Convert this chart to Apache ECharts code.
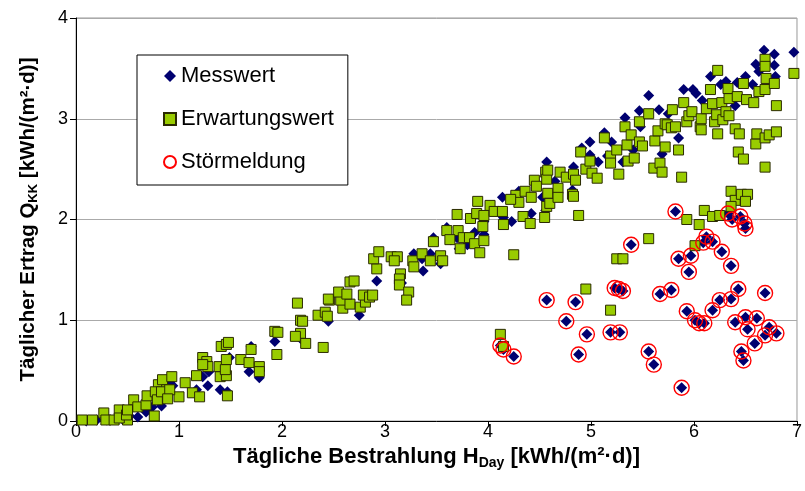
<!DOCTYPE html>
<html>
<head>
<meta charset="utf-8">
<script src="https://cdn.jsdelivr.net/npm/echarts@6/dist/echarts.min.js"></script>
<style>html,body{margin:0;padding:0;background:#fff;}#chart{width:805px;height:491px;}</style>
</head>
<body>
<div id="chart"></div>
<script>
// Tick values
var xTicks = [0, 1, 2, 3, 4, 5, 6, 7];
var yTicks = [0, 1, 2, 3, 4];
var seriesNames = ['Messwert', 'Erwartungswert', 'Störmeldung'];

// Störmeldung (fault days) [H_Day, Q_KK]
var stoerung = [
 [5.82,2.08],[6.33,2.06],[6.45,2.03],[6.49,1.96],[6.50,1.91],[6.37,2.00],[5.39,1.75],[6.12,1.83],[6.09,1.77],[6.18,1.78],
 [6.27,1.68],[5.85,1.61],[5.97,1.64],[6.36,1.54],[5.95,1.48],[5.23,1.32],[5.27,1.31],[5.31,1.29],[5.67,1.26],[5.78,1.30],
 [6.43,1.31],[6.69,1.27],[4.57,1.20],[4.85,1.18],[6.25,1.20],[6.36,1.21],[6.18,1.10],[5.93,1.09],[6.01,1.00],[6.05,0.97],
 [6.10,0.97],[4.76,0.99],[6.40,0.98],[6.50,1.03],[6.61,1.02],[6.52,0.91],[6.73,0.93],[6.69,0.85],[6.80,0.87],[4.96,0.86],
 [5.19,0.88],[5.28,0.88],[6.59,0.77],[4.12,0.75],[4.15,0.71],[4.25,0.64],[4.88,0.66],[5.56,0.69],[5.61,0.56],[6.46,0.69],
 [6.48,0.60],[5.88,0.33]
];

// Messwert (measured) on normal days
var messwertNormal = [
 [0.10,0.00],[0.20,0.01],[0.30,0.01],[0.45,0.02],[0.52,0.05],
 [0.60,0.04],[0.68,0.09],[0.71,0.14],[0.83,0.15],[0.94,0.35],[1.17,0.31],[1.23,0.44],[1.28,0.35],[1.40,0.31],[1.47,0.29],
 [1.29,0.49],[1.49,0.63],[1.68,0.49],[1.78,0.43],[1.70,0.74],[1.93,0.79],[2.18,0.82],[2.45,0.99],[2.75,1.05],[0.91,0.38],
 [0.74,0.14],
 [2.92,1.39],[3.28,1.66],[3.36,1.61],[3.44,1.66],[3.54,1.56],[3.47,1.82],[3.60,1.92],[3.70,1.82],[3.87,1.87],[3.96,1.85],
 [4.14,2.22],[4.15,2.02],[4.23,1.98],[4.30,2.28],[4.42,2.06],[4.53,2.22],[4.56,2.09],[4.57,2.57],[4.65,2.38],[4.83,2.52],
 [4.91,2.71],[4.99,2.77],[4.99,2.64],[5.02,2.59],[4.82,2.29],[3.80,1.75],[3.72,1.71],[3.96,1.98],[3.37,1.49],[3.16,1.37],
 [3.64,1.80],
 [5.07,2.57],[5.13,2.86],[5.20,2.77],[5.16,2.63],[5.31,2.57],[5.33,3.01],[5.41,2.69],[5.48,2.92],[5.47,3.08],[5.56,3.23],
 [5.66,3.09],[5.69,2.65],[5.75,3.05],[5.85,2.81],[5.90,3.29],[5.99,3.29],[6.02,3.25],[6.08,3.18],[6.16,3.42],[6.26,3.34],
 [6.31,3.37],[6.36,3.24],[6.40,3.13],[6.42,3.36],[6.50,3.42],[6.57,3.34],[6.60,3.54],[6.63,3.47],[6.68,3.68],[6.78,3.64],
 [6.78,3.53],[6.97,3.66],[6.79,3.42]
];
var messwert = messwertNormal.concat(stoerung);

// Erwartungswert (expected)
var erwartung = [
 [0.06,0.01],[0.16,0.01],[0.27,0.08],[0.29,0.01],[0.37,0.01],[0.42,0.11],[0.50,0.08],[0.50,0.01],[0.56,0.21],[0.60,0.14],
 [0.68,0.16],[0.69,0.25],[0.76,0.05],[0.80,0.36],[0.84,0.41],[0.83,0.23],[0.93,0.44],[1.00,0.24],[1.06,0.38],[1.13,0.28],
 [0.88,0.31],[0.77,0.29],[0.42,0.03],[0.49,0.06],[0.50,0.11],[0.79,0.21],[0.83,0.29],[0.91,0.31],[0.89,0.22],
 [1.20,0.24],[1.17,0.45],[1.23,0.63],[1.27,0.59],[1.28,0.54],[1.23,0.56],[1.40,0.44],[1.46,0.45],[1.39,0.54],[1.45,0.51],
 [1.47,0.25],[1.41,0.74],[1.46,0.76],[1.48,0.78],[1.46,0.61],[1.60,0.61],[1.68,0.58],[1.70,0.71],[1.78,0.54],[1.78,0.49],
 [1.93,0.89],[1.96,0.88],[1.95,0.66],[2.15,1.17],[2.18,1.00],[2.20,0.99],[2.18,0.87],[2.13,0.84],[2.23,0.77],[2.35,1.05],
 [2.42,1.08],[2.44,1.04],[2.40,0.73],[2.46,1.20],[2.59,1.12],[2.57,1.20],[2.66,1.16],[2.76,1.13],[2.81,1.18],
 [2.45,1.21],[2.55,1.28],[2.63,1.26],[2.66,1.38],[2.70,1.39],[2.79,1.25],[2.85,1.23],[2.88,1.25],[2.92,1.51],[2.89,1.61],
 [2.94,1.68],[3.06,1.63],[3.12,1.63],[3.09,1.59],[3.15,1.46],[3.14,1.41],[3.14,1.35],[3.23,1.28],[3.27,1.59],[3.28,1.53],
 [3.36,1.66],[3.44,1.59],[3.54,1.64],[3.56,1.59],[3.47,1.78],[3.60,1.89],[3.71,1.89],[3.70,2.05],[3.63,1.80],[3.76,1.82],
 [3.82,1.82],[3.73,1.71],[3.87,1.76],[3.92,1.67],[3.83,2.01],[3.90,2.18],[3.89,2.06],[3.96,2.04],[3.95,1.93],[3.96,1.79],
 [4.02,2.14],[4.06,2.08],[4.14,2.08],[4.15,1.95],[4.27,2.24],[4.30,2.17],[4.22,2.20],[4.36,2.28],[4.42,2.22],[4.34,2.03],
 [4.41,1.96],[4.45,2.39],[4.47,2.33],[4.56,2.47],[4.57,2.40],[4.55,2.02],[4.57,2.13],[4.58,2.26],[4.60,2.16],[4.68,2.31],
 [4.68,2.22],[4.70,2.47],[4.76,2.42],[4.83,2.45],[4.85,2.39],[4.82,2.25],[4.83,2.23],[4.88,2.04],[4.90,2.67],[4.95,2.50],
 [4.99,2.58],[5.01,2.46],[5.06,2.41],[4.25,1.65],[4.95,1.31],[3.21,1.20],
 [4.58,2.49],[5.13,2.81],[5.19,2.63],[5.19,2.56],[5.25,2.69],[5.27,2.45],[5.33,2.92],[5.35,2.74],[5.36,2.58],[5.39,2.84],
 [5.42,2.61],[5.47,2.97],[5.47,2.77],[5.50,2.73],[5.56,3.05],[5.62,2.78],[5.61,2.51],[5.67,2.56],[5.69,2.47],[5.65,2.88],
 [5.72,2.72],[5.72,2.95],[5.74,2.94],[5.78,2.91],[5.79,3.09],[5.82,2.92],[5.85,2.69],[5.88,2.42],[5.90,3.16],[5.93,2.97],
 [5.95,3.03],[5.98,3.07],[6.06,2.92],[6.07,3.00],[6.07,2.89],[6.12,3.10],[6.16,3.29],[6.18,3.15],[6.20,2.97],[6.23,2.85],
 [6.23,3.48],[6.22,3.04],[6.27,3.16],[6.28,2.99],[6.31,3.07],[6.34,3.20],[6.33,3.30],[6.34,3.03],[6.40,2.90],[6.42,3.22],
 [6.44,2.85],[6.43,2.67],[6.48,2.60],[6.48,3.35],[6.51,3.19],[6.58,3.16],[6.60,2.75],[6.61,2.85],[6.63,3.27],[6.69,3.29],
 [6.69,2.81],[6.69,2.52],[6.69,3.59],[6.69,3.52],[6.70,3.40],[6.73,2.84],[6.78,3.35],[6.80,3.13],[6.80,2.87],[6.97,3.45],
 [5.56,1.81],[5.25,1.61],[5.31,1.61],[5.19,1.10],[4.12,0.86],[4.15,0.74],[5.93,2.00],[6.05,1.95],[6.10,2.09],[6.18,2.03],
 [6.25,2.04],[6.01,1.74],[6.36,2.28],[6.40,2.19],[6.46,2.25],[6.52,2.25],[6.50,2.18],[6.36,2.13]
];

var FONT = "'Liberation Sans', Arial, sans-serif";
var chart = echarts.init(document.getElementById('chart'), null, {renderer: 'canvas'});
chart.setOption({
  animation: false,
  backgroundColor: '#fff',
  textStyle: {fontFamily: FONT},
  grid: {left: 76, right: 4, top: 18, bottom: 70, show: true, borderColor: '#999', borderWidth: 1, backgroundColor: '#fff'},
  legend: {
    orient: 'vertical', left: 137, top: 55,
    padding: [10, 14, 12, 26],
    itemGap: 21, itemWidth: 12, itemHeight: 12, itemTextGap: 6,
    backgroundColor: '#fff', borderColor: '#000', borderWidth: 1,
    textStyle: {fontSize: 22, color: '#000', fontFamily: FONT},
    data: [
      {name: seriesNames[0], icon: 'diamond'},
      {name: seriesNames[1], icon: 'rect'},
      {name: seriesNames[2], icon: 'circle'}
    ]
  },
  xAxis: {
    type: 'value', min: xTicks[0], max: xTicks[xTicks.length - 1], interval: 1,
    axisLine: {show: true, onZero: false, lineStyle: {color: '#000', width: 1}},
    axisTick: {show: true, length: 5, lineStyle: {color: '#000'}},
    axisLabel: {fontSize: 18, color: '#000', margin: 2, fontFamily: FONT},
    splitLine: {show: false},
    name: '{b|Tägliche Bestrahlung H}{s|Day}{b| [kWh/(m²·d)]}',
    nameLocation: 'middle', nameGap: 6,
    nameTextStyle: {
      rich: {
        b: {fontSize: 22, fontWeight: 'bold', color: '#000', fontFamily: FONT},
        s: {fontSize: 14, fontWeight: 'bold', color: '#000', fontFamily: FONT, verticalAlign: 'bottom', padding: [12, 0, 0, 0]}
      }
    }
  },
  yAxis: {
    type: 'value', min: yTicks[0], max: yTicks[yTicks.length - 1], interval: 1,
    axisLine: {show: true, onZero: false, lineStyle: {color: '#000', width: 1}},
    axisTick: {show: true, length: 6, lineStyle: {color: '#000'}},
    axisLabel: {fontSize: 18, color: '#000', margin: 8, fontFamily: FONT},
    splitLine: {show: true, lineStyle: {color: '#aaa', width: 1}},
    name: '{b|Täglicher Ertrag Q}{s|KK}{b| [kWh/(m²·d)]}',
    nameLocation: 'middle', nameGap: 36, nameRotate: 90,
    nameTextStyle: {
      rich: {
        b: {fontSize: 20.5, fontWeight: 'bold', color: '#000', fontFamily: FONT},
        s: {fontSize: 13, fontWeight: 'bold', color: '#000', fontFamily: FONT, verticalAlign: 'bottom', padding: [11, 0, 0, 0]}
      }
    }
  },
  series: [
    {
      name: seriesNames[0], type: 'scatter', symbol: 'diamond', symbolSize: 11,
      data: messwert, z: 2,
      itemStyle: {color: '#000070', opacity: 1}
    },
    {
      name: seriesNames[1], type: 'scatter', symbol: 'rect', symbolSize: 10,
      data: erwartung, z: 3,
      itemStyle: {color: '#99cc00', borderColor: '#2a2a00', borderWidth: 1, opacity: 1}
    },
    {
      name: seriesNames[2], type: 'scatter', symbol: 'circle', symbolSize: 15,
      data: stoerung, z: 4,
      itemStyle: {color: 'rgba(255,255,255,0)', borderColor: '#ff0000', borderWidth: 1.4, opacity: 1}
    }
  ]
});
</script>
</body>
</html>
